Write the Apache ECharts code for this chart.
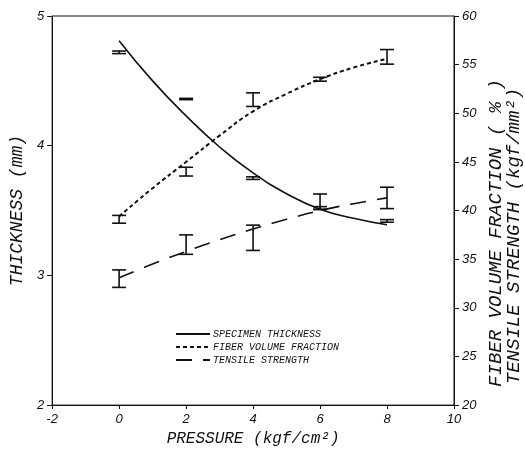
<!DOCTYPE html>
<html>
<head>
<meta charset="utf-8">
<script src="https://cdn.jsdelivr.net/npm/echarts@6/dist/echarts.min.js"></script>
<style>
  html, body { margin: 0; padding: 0; background: #fff; }
  #chart { width: 525px; height: 452px; }
</style>
</head>
<body>
<div id="chart"></div>
<script>
  // pressure values (kgf/cm2)
  var pressure = [0, 1, 2, 3, 4, 5, 6, 7, 8];
  // fitted curves
  var thicknessFit = [4.81, 4.50, 4.23, 3.99, 3.79, 3.63, 3.51, 3.44, 3.39];
  var fractionFit = [39.4, 42.3, 45.0, 47.7, 50.2, 52.0, 53.5, 54.7, 55.6];
  var strengthFit = [33.1, 34.5, 35.8, 37.0, 38.1, 39.1, 40.0, 40.7, 41.3];

  // measured points with error bars
  var measX = [0, 2, 4, 6, 8];
  var thicknessMean = [4.72, 4.36, 3.75, 3.52, 3.42];
  var thicknessErr = [0.01, 0.005, 0.01, 0.01, 0.01];
  var fractionMean = [39.1, 44.0, 51.4, 53.5, 55.8];
  var fractionErr = [0.4, 0.45, 0.7, 0.2, 0.75];
  var strengthMean = [33.0, 36.5, 37.2, 40.9, 41.3];
  var strengthErr = [0.9, 1.0, 1.3, 0.8, 1.1];

  var myChart = echarts.init(document.getElementById('chart'));

  function pairs(xs, ys) {
    return xs.map(function (x, i) { return [x, ys[i]]; });
  }
  function errData(means, errs) {
    return measX.map(function (x, i) { return [x, means[i] - errs[i], means[i] + errs[i]]; });
  }

  // I-shaped error bar
  function renderBar(params, api) {
    var top = api.coord([api.value(0), api.value(2)]);
    var bot = api.coord([api.value(0), api.value(1)]);
    var w = 7;
    var st = { stroke: '#111', lineWidth: 1.6 };
    return {
      type: 'group',
      children: [
        { type: 'line', shape: { x1: top[0], y1: top[1], x2: bot[0], y2: bot[1] }, style: st },
        { type: 'line', shape: { x1: top[0] - w, y1: top[1], x2: top[0] + w, y2: top[1] }, style: st },
        { type: 'line', shape: { x1: bot[0] - w, y1: bot[1], x2: bot[0] + w, y2: bot[1] }, style: st }
      ]
    };
  }

  var tickFont = { color: '#111', fontStyle: 'italic', fontFamily: 'Liberation Sans', fontSize: 13 };
  var titleFont = 'Liberation Mono';
  var rightTitles = ['FIBER VOLUME FRACTION ( % )', 'TENSILE STRENGTH (kgf/mm²)'];

  var option = {
    animation: false,
    grid: { left: 51, right: 71, top: 16, bottom: 44, show: true, borderColor: '#111', borderWidth: 1 },
    legend: {
      orient: 'vertical',
      left: 170,
      top: 324,
      itemWidth: 34,
      itemHeight: 8,
      itemGap: 3,
      data: ['SPECIMEN THICKNESS', 'FIBER VOLUME FRACTION', 'TENSILE STRENGTH'],
      itemStyle: { color: 'rgba(0,0,0,0)', borderWidth: 0 },
      textStyle: { color: '#111', fontStyle: 'italic', fontFamily: titleFont, fontSize: 10, padding: [0, 0, 0, -2] }
    },
    xAxis: {
      type: 'value', min: -2, max: 10, interval: 2,
      axisLine: { onZero: false, lineStyle: { color: '#111', width: 1 } },
      axisTick: { inside: false, length: 4, lineStyle: { color: '#111' } },
      axisLabel: tickFont,
      splitLine: { show: false },
      name: 'PRESSURE (kgf/cm²)', nameLocation: 'middle', nameGap: 20,
      nameTextStyle: { color: '#111', fontStyle: 'italic', fontFamily: titleFont, fontSize: 16 }
    },
    yAxis: [{
      type: 'value', min: 2, max: 5, interval: 1, position: 'left',
      axisLine: { show: true, onZero: false, lineStyle: { color: '#111', width: 1 } },
      axisTick: { show: true, length: 5, lineStyle: { color: '#111' } },
      axisLabel: tickFont,
      splitLine: { show: false },
      name: 'THICKNESS (mm)', nameLocation: 'middle', nameGap: 26, nameRotate: 90,
      nameTextStyle: { color: '#111', fontStyle: 'italic', fontFamily: titleFont, fontSize: 18 }
    }, {
      type: 'value', min: 20, max: 60, interval: 5, position: 'right',
      axisLine: { show: true, onZero: false, lineStyle: { color: '#111', width: 1 } },
      axisTick: { show: true, length: 5, lineStyle: { color: '#111' } },
      axisLabel: tickFont,
      splitLine: { show: false }
    }],
    graphic: [{
      type: 'text', x: 496, y: 233, rotation: Math.PI / 2,
      style: { text: rightTitles[0], align: 'center', verticalAlign: 'middle', fill: '#111',
        font: 'italic 19px "Liberation Mono"' }
    }, {
      type: 'text', x: 514, y: 236, rotation: Math.PI / 2,
      style: { text: rightTitles[1], align: 'center', verticalAlign: 'middle', fill: '#111',
        font: 'italic 19px "Liberation Mono"' }
    }],
    series: [{
      name: 'SPECIMEN THICKNESS', type: 'line', yAxisIndex: 0, smooth: true,
      symbol: 'none', data: pairs(pressure, thicknessFit),
      lineStyle: { color: '#111', width: 1.6, type: 'solid' }, itemStyle: { color: '#111' }
    }, {
      name: 'FIBER VOLUME FRACTION', type: 'line', yAxisIndex: 1, smooth: true,
      symbol: 'none', data: pairs(pressure, fractionFit),
      lineStyle: { color: '#111', width: 2, type: [4, 3] }, itemStyle: { color: '#111' }
    }, {
      name: 'TENSILE STRENGTH', type: 'line', yAxisIndex: 1, smooth: true,
      symbol: 'none', data: pairs(pressure, strengthFit),
      lineStyle: { color: '#111', width: 1.6, type: [16, 11] }, itemStyle: { color: '#111' }
    }, {
      type: 'custom', yAxisIndex: 0, renderItem: renderBar,
      encode: { x: 0, y: [1, 2] }, data: errData(thicknessMean, thicknessErr)
    }, {
      type: 'custom', yAxisIndex: 1, renderItem: renderBar,
      encode: { x: 0, y: [1, 2] }, data: errData(fractionMean, fractionErr)
    }, {
      type: 'custom', yAxisIndex: 1, renderItem: renderBar,
      encode: { x: 0, y: [1, 2] }, data: errData(strengthMean, strengthErr)
    }]
  };

  myChart.setOption(option);
</script>
</body>
</html>
